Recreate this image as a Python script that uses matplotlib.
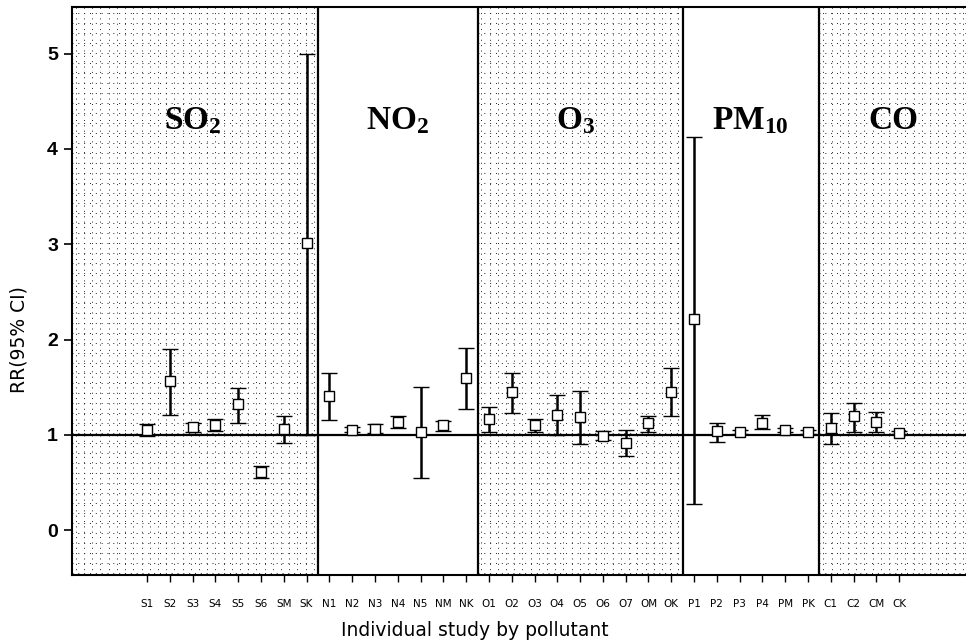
import matplotlib
matplotlib.use("Agg")
import matplotlib.pyplot as plt
import numpy as np

plt.rcParams["mathtext.fontset"] = "custom"
plt.rcParams["mathtext.rm"] = "Liberation Serif"
plt.rcParams["mathtext.bf"] = "Liberation Serif:bold"
plt.rcParams["mathtext.it"] = "Liberation Serif:italic"

studies = ["S1","S2","S3","S4","S5","S6","SM","SK",
           "N1","N2","N3","N4","N5","NM","NK",
           "O1","O2","O3","O4","O5","O6","O7","OM","OK",
           "P1","P2","P3","P4","PM","PK",
           "C1","C2","CM","CK"]
rr = [1.05,1.57,1.08,1.10,1.32,0.61,1.06,3.01,
      1.41,1.05,1.06,1.14,1.03,1.10,1.60,
      1.17,1.45,1.10,1.21,1.19,0.99,0.92,1.12,1.45,
      2.22,1.04,1.03,1.13,1.05,1.03,
      1.07,1.20,1.14,1.02]
lower = [0.99,1.21,1.03,1.04,1.13,0.55,0.92,1.00,
         1.16,1.03,1.02,1.07,0.55,1.04,1.27,
         1.03,1.23,1.03,1.00,0.90,0.95,0.78,1.03,1.20,
         0.27,0.93,1.01,1.06,1.03,1.01,
         0.90,1.03,1.03,1.01]
upper = [1.11,1.90,1.12,1.17,1.49,0.67,1.20,5.00,
         1.65,1.08,1.11,1.20,1.50,1.15,1.91,
         1.29,1.65,1.17,1.42,1.46,1.04,1.05,1.20,1.70,
         4.13,1.13,1.05,1.21,1.07,1.05,
         1.23,1.34,1.24,1.04]
groups = ["SO$_\\mathbf{2}$", "NO$_\\mathbf{2}$", "O$_\\mathbf{3}$", "PM$_\\mathbf{10}$", "CO"]
group_sizes = [8, 7, 9, 6, 4]
shaded = [True, False, True, False, True]
label_x = [3.02, 12.01, 19.78, 27.46, 33.73]

fig = plt.figure(figsize=(9.66, 6.40), dpi=100)
ax = fig.add_axes([72/966, 1-575/640, 1-72/966, (575-7)/640])

x = np.arange(1, len(studies)+1)
xmin, xmax = -2.29, 36.93
ymin, ymax = -0.47, 5.49
ax.set_xlim(xmin, xmax)
ax.set_ylim(ymin, ymax)

# group boundaries
edges = [xmin]
c = 0
for n in group_sizes[:-1]:
    c += n
    edges.append(c + 0.5)
edges.append(xmax)

# dotted stipple in shaded regions
for i, sh in enumerate(shaded):
    a, b = edges[i], edges[i+1]
    if sh:
        vx = np.arange(a + 0.17, b, 0.36)
        ax.vlines(vx, ymin, ymax, colors="#222222", linestyles=(0, (1, 4.5)), linewidth=0.7, zorder=0)
        hy = np.arange(-0.45, ymax, 0.105)
        ax.hlines(hy, a, b, colors="#222222", linestyles=(0, (1, 5)), linewidth=0.7, zorder=0)
for e in edges[1:-1]:
    ax.axvline(e, color="black", linewidth=1.6, zorder=1)

ax.axhline(1.0, color="black", linewidth=1.6, zorder=2)

rr_a = np.array(rr); lo = np.array(lower); up = np.array(upper)
ax.errorbar(x, rr_a, yerr=[rr_a - lo, up - rr_a], fmt="s", mfc="white", mec="black",
            mew=1.0, ms=6.5, ecolor="black", elinewidth=1.8, capsize=5.5, capthick=2.2,
            color="black", zorder=3)

for g, cx in zip(groups, label_x):
    ax.text(cx, 4.30, g, ha="center", va="center", fontsize=24, fontweight="bold",
            family="Liberation Serif", zorder=4)

ax.set_xticks(x)
ax.set_xticklabels(studies, fontsize=7.5, family="DejaVu Sans")
ax.set_yticks([0, 1, 2, 3, 4, 5])
ax.set_yticklabels(["0", "1", "2", "3", "4", "5"], fontsize=14, fontweight="bold", family="Liberation Sans")
ax.tick_params(axis="y", direction="out", length=6, width=1.2, pad=4)
ax.tick_params(axis="x", direction="out", length=5, width=1.0, pad=12)
for s in ["left", "bottom", "top"]:
    ax.spines[s].set_linewidth(1.5)
ax.spines["right"].set_visible(False)

ax.set_ylabel("RR(95% CI)", fontsize=13.5, family="DejaVu Sans")
ax.yaxis.set_label_coords(-0.049, 0.414)
ax.set_xlabel("Individual study by pollutant", fontsize=13.5, family="DejaVu Sans")
ax.xaxis.set_label_coords(0.451, -0.081)

fig.savefig("out.png", dpi=100)
